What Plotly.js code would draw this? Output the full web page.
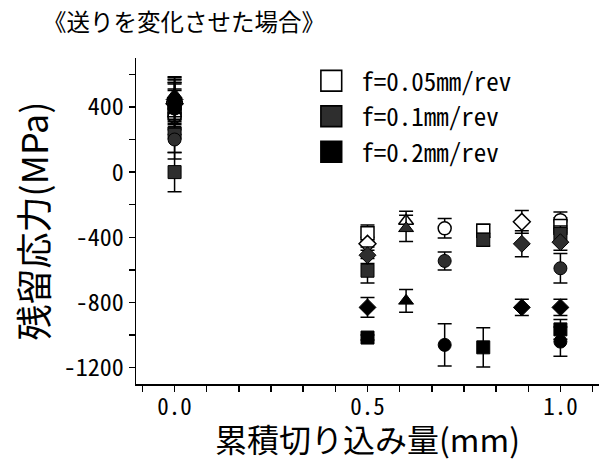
<!DOCTYPE html>
<html><head><meta charset="utf-8">
<script src="https://cdn.plot.ly/plotly-3.0.1.min.js"></script>
<style>
html,body{margin:0;padding:0;background:#fff;}
#chart{width:604px;height:461px;}
</style></head><body><div id="chart"></div>
<script>
// ---- data ----
const seriesNames = ['f=0.05mm/rev', 'f=0.1mm/rev', 'f=0.2mm/rev'];

// f = 0.05 mm/rev (open markers)
const x005   = [0, 0, 0, 0, 0.5, 0.5, 0.6, 0.7, 0.8, 0.9, 1.0, 1.0];
const sym005 = ['square','circle','triangle-up','diamond','square','diamond','triangle-up','circle','square','diamond','circle','square'];
const y005   = [380, 340, 450, 420, -375, -440, -300, -345, -360, -305, -295, -330];
const e005   = [120, 110, 120, 120, 50, 40, 60, 60, 40, 70, 50, 50];

// f = 0.1 mm/rev (dark grey markers)
const x01   = [0, 0, 0, 0, 0, 0.5, 0.5, 0.6, 0.7, 0.8, 0.9, 1.0, 1.0, 1.0];
const sym01 = ['square','square','circle','diamond','triangle-up','square','diamond','triangle-up','circle','square','diamond','square','diamond','circle'];
const y01   = [0, 240, 200, 430, 460, -605, -510, -345, -545, -415, -440, -380, -430, -590];
const e01   = [120, 120, 120, 120, 120, 75, 50, 80, 55, 40, 80, 50, 50, 90];

// f = 0.2 mm/rev (black markers)
const x02   = [0, 0, 0, 0, 0.5, 0.5, 0.6, 0.7, 0.8, 0.9, 1.0, 1.0, 1.0];
const sym02 = ['square','circle','triangle-up','diamond','square','diamond','triangle-up','circle','square','diamond','diamond','square','circle'];
const y02   = [420, 390, 475, 445, -1015, -830, -790, -1060, -1075, -830, -830, -965, -1040];
const e02   = [130, 120, 110, 120, 15, 60, 70, 130, 120, 50, 50, 60, 90];

const yTickVals = [-1200, -800, -400, 0, 400];
const yTickText = ['-1200', '-800', '-400', '0', '400'];
const xTickVals = [0, 0.5, 1.0];
const xTickText = ['0.0', '0.5', '1.0'];

// ---- styling ----
const MONO = "'Noto Sans Mono CJK JP', 'Noto Sans CJK JP', 'Liberation Mono', monospace";
const CJK = "'Noto Sans CJK JP', 'Noto Sans Mono CJK JP', sans-serif";

function makeTrace(name, x, y, sym, err, fill, lw) {
  return {
    type: 'scatter', mode: 'markers', name: name,
    x: x, y: y,
    marker: {symbol: sym, size: 13, color: fill, line: {color: '#000', width: lw}},
    error_y: {type: 'data', array: err, visible: true, color: '#000', thickness: 1.5, width: 7},
    hoverinfo: 'skip'
  };
}

const data = [
  makeTrace(seriesNames[0], x005, y005, sym005, e005, '#ffffff', 1.5),
  makeTrace(seriesNames[1], x01, y01, sym01, e01, '#2e2e2e', 1),
  makeTrace(seriesNames[2], x02, y02, sym02, e02, '#000000', 1)
];

const layout = {
  width: 604, height: 461,
  margin: {l: 136, r: 5, t: 58, b: 77},
  paper_bgcolor: '#fff', plot_bgcolor: '#fff',
  font: {family: MONO, color: '#000'},
  title: {
    text: '《送りを変化させた場合》',
    font: {family: CJK, size: 23.5, color: '#000'},
    xref: 'container', yref: 'container',
    x: 43 / 604, xanchor: 'left',
    y: 1 - 23 / 461, yanchor: 'middle'
  },
  showlegend: true,
  legend: {
    x: 0.357, y: 1.0, xanchor: 'left', yanchor: 'top',
    font: {family: MONO, size: 25, color: '#000'},
    bgcolor: 'rgba(0,0,0,0)', tracegroupgap: 0, itemwidth: 50
  },
  xaxis: {
    range: [-0.1, 1.1],
    tickmode: 'array', tickvals: xTickVals, ticktext: xTickText,
    ticks: 'outside', ticklen: 6, tickwidth: 1.5, tickcolor: '#000',
    ticklabelstandoff: -4,
    minor: {tickmode: 'linear', tick0: 0, dtick: 0.5 / 6, ticks: 'outside', ticklen: 6, tickwidth: 1.5, tickcolor: '#000'},
    showline: true, linecolor: '#000', linewidth: 1.5,
    showgrid: false, zeroline: false,
    tickfont: {family: MONO, size: 23, color: '#000'},
    title: {text: '累積切り込み量(mm)', font: {family: CJK, size: 32, color: '#000'}, standoff: 16}
  },
  yaxis: {
    range: [-1300, 700],
    tickmode: 'array', tickvals: yTickVals, ticktext: yTickText,
    ticks: 'outside', ticklen: 6, tickwidth: 1.5, tickcolor: '#000',
    minor: {tickmode: 'linear', tick0: 0, dtick: 200, ticks: 'outside', ticklen: 6, tickwidth: 1.5, tickcolor: '#000'},
    showline: true, linecolor: '#000', linewidth: 1.5,
    showgrid: false, zeroline: false,
    tickfont: {family: MONO, size: 24, color: '#000'},
    title: {text: '残留応力(MPa)', font: {family: CJK, size: 36, color: '#000'}, standoff: 4}
  }
};

Plotly.newPlot('chart', data, layout, {staticPlot: true, displayModeBar: false}).then(function (gd) {
  // enlarge the legend swatches to match the reference's big legend squares
  gd.querySelectorAll('.legend .legendpoints path.scatterpts').forEach(function (p) {
    const t = p.getAttribute('transform') || '';
    p.setAttribute('transform', t + ' scale(1.6)');
    p.style.strokeWidth = '1px';
  });
});
</script>
</body></html>
